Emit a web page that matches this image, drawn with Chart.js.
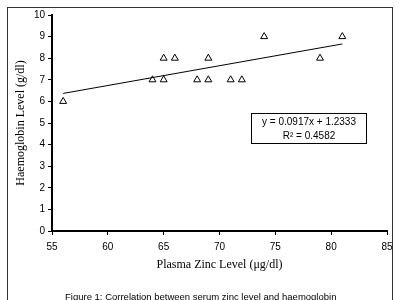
<!DOCTYPE html>
<html>
<head>
<meta charset="utf-8">
<script src="https://cdn.jsdelivr.net/npm/chart.js@4/dist/chart.umd.min.js"></script>
<style>
  html, body { margin: 0; padding: 0; background: #fff; }
  #wrap { width: 399px; height: 300px; }
</style>
</head>
<body>
<div id="wrap"><canvas id="chart" width="399" height="300"></canvas></div>
<script>
// values
const zincLevels = [56, 64, 65, 65, 66, 68, 69, 69, 71, 72, 74, 79, 81];
const haemoglobin = [6, 7, 7, 8, 8, 7, 7, 8, 7, 7, 9, 8, 9];
const trendX = [56, 81];
const trendY = [6.37, 8.66];
const equationLines = ['y = 0.0917x + 1.2333', 'R\u00b2 = 0.4582'];
const captionText = 'Figure 1: Correlation between serum zinc level and haemoglobin';

const sans = '"Liberation Sans", Arial, sans-serif';
const serif = '"Liberation Serif", "Times New Roman", serif';

const extras = {
    id: 'extras',
    afterDraw(chart) {
        const ctx = chart.ctx;
        ctx.save();
        // outer frame
        ctx.strokeStyle = '#333';
        ctx.lineWidth = 1;
        ctx.strokeRect(7.5, 7.5, 385, 310);
        // equation box
        ctx.fillStyle = '#fff';
        ctx.fillRect(251, 113, 115, 30);
        ctx.strokeStyle = '#000';
        ctx.strokeRect(251.5, 113.5, 115, 30);
        ctx.fillStyle = '#000';
        ctx.font = '10px ' + sans;
        ctx.textAlign = 'center';
        ctx.textBaseline = 'middle';
        ctx.fillText(equationLines[0], 309, 122);
        ctx.fillText(equationLines[1], 309, 136);
        // caption
        ctx.font = '9.5px ' + sans;
        ctx.textAlign = 'left';
        ctx.fillText(captionText, 65, 297);
        ctx.restore();
    }
};

const ctx = document.getElementById('chart').getContext('2d');
new Chart(ctx, {
    type: 'scatter',
    data: {
        datasets: [{
            label: 'Haemoglobin',
            data: zincLevels.map((x, i) => ({ x: x, y: haemoglobin[i] })),
            pointStyle: 'triangle',
            pointRadius: 4,
            borderColor: '#000',
            backgroundColor: 'rgba(0,0,0,0)',
            borderWidth: 1
        }, {
            label: 'Linear trend',
            type: 'line',
            data: trendX.map((x, i) => ({ x: x, y: trendY[i] })),
            borderColor: '#000',
            borderWidth: 1,
            pointRadius: 0,
            fill: false
        }]
    },
    options: {
        responsive: false,
        animation: false,
        layout: { padding: { left: 0, right: 12, top: 15, bottom: 0 } },
        plugins: {
            legend: { display: false },
            tooltip: { enabled: false }
        },
        scales: {
            x: {
                type: 'linear',
                min: 55,
                max: 85,
                afterFit: s => { s.height = 69; },
                ticks: { stepSize: 5, color: '#000', padding: 6, font: { family: sans, size: 10 } },
                grid: { drawOnChartArea: false, tickLength: 4, color: '#000' },
                border: { color: '#000', width: 2 },
                title: {
                    display: true,
                    text: 'Plasma Zinc Level (\u03bcg/dl)',
                    color: '#000',
                    font: { family: serif, size: 12 },
                    padding: { top: 0, bottom: 28 }
                }
            },
            y: {
                min: 0,
                max: 10,
                afterFit: s => { s.width = 52; },
                ticks: { stepSize: 1, color: '#000', padding: 3, font: { family: sans, size: 10 } },
                grid: { drawOnChartArea: false, tickLength: 4, color: '#000' },
                border: { color: '#000', width: 2 },
                title: {
                    display: true,
                    text: 'Haemoglobin Level (g/dl)',
                    color: '#000',
                    font: { family: serif, size: 12 },
                    padding: { top: 14, bottom: 0 }
                }
            }
        }
    },
    plugins: [extras]
});
</script>
</body>
</html>
